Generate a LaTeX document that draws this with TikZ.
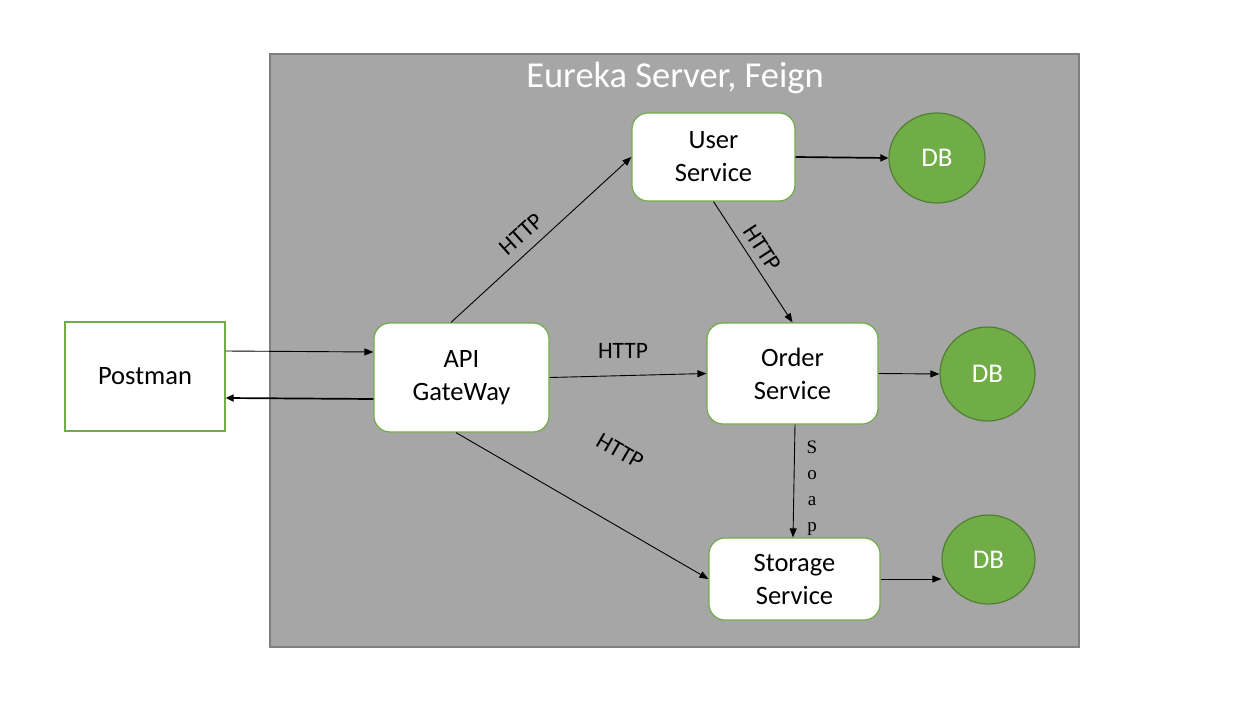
\documentclass[tikz,border=0pt]{standalone}
\usepackage{fontspec}
\setmainfont{Carlito}
\newfontfamily\serifb{Liberation Serif}
\usetikzlibrary{arrows.meta,shapes.geometric}
\definecolor{boxgreen}{HTML}{70AD47}
\definecolor{dbedge}{HTML}{507E32}
\definecolor{panel}{HTML}{A6A6A6}
\definecolor{paneledge}{HTML}{7F7F7F}
\tikzset{
  svc/.style={draw=boxgreen, line width=1.2pt, fill=white, rounded corners=16pt, align=center,
    font=\fontsize{26.5}{33}\selectfont, inner sep=0pt},
  dbnode/.style={ellipse, draw=dbedge, line width=1.2pt, fill=boxgreen, text=white, inner sep=0pt,
    font=\fontsize{27}{30}\selectfont},
  thin arrow/.style={line width=0.9pt, -{Triangle[length=9pt,width=7pt]}},
  thick arrow/.style={line width=1.7pt, -{Triangle[length=8pt,width=7pt]}},
  lbl/.style={font=\fontsize{23.5}{26}\selectfont, inner sep=0pt},
}
\begin{document}
\begin{tikzpicture}[x=1pt,y=-1pt]
\useasboundingbox (0,0) rectangle (1234,717);
\fill[white] (0,0) rectangle (1234,717);
% panel
\node[draw=paneledge, fill=panel, line width=1.8pt, minimum width=809pt, minimum height=593pt, inner sep=0pt] (panel) at (674.5,350.5) {};
\node[text=white, font=\fontsize{36.5}{40}\selectfont] (title) at (675,78) {Eureka Server, Feign};
% nodes
\node[draw=boxgreen, line width=1.2pt, fill=white, minimum width=160pt, minimum height=109pt, inner sep=0pt,
  font=\fontsize{26.5}{33}\selectfont] (postman) at (145,376.5) {Postman};
\node[svc, minimum width=175pt, minimum height=109pt] (api) at (461.5,377.5) {API\\GateWay};
\node[svc, minimum width=163pt, minimum height=88pt] (user) at (713.5,157) {User\\Service};
\node[svc, minimum width=171pt, minimum height=101pt] (order) at (792.5,373.5) {Order\\Service};
\node[svc, minimum width=171pt, minimum height=82pt] (storage) at (794.5,579) {Storage\\Service};
\node[dbnode, minimum width=96pt, minimum height=90pt] (db1) at (937,158) {DB};
\node[dbnode, minimum width=95pt, minimum height=94pt] (db2) at (987.5,374) {DB};
\node[dbnode, minimum width=93pt, minimum height=89pt] (db3) at (988.5,559.5) {DB};
% connectors
\draw[thin arrow] ([yshift=25.5pt]postman.east) -- ([yshift=25.5pt]api.west);
\draw[thick arrow] ([yshift=-21.5pt]api.west) -- ([yshift=-21.5pt]postman.east);
\draw[thin arrow] ([xshift=-10.5pt]api.north) -- (user.west);
\draw[thin arrow] (user.south) -- (order.north);
\draw[thin arrow] (api.east) -- (order.west);
\draw[thin arrow] ([xshift=2.5pt]order.south) -- ([xshift=-1.5pt]storage.north);
\draw[thin arrow] ([xshift=-5.5pt]api.south) -- (storage.west);
\draw[thick arrow] (user.east) -- (db1.west);
\draw[thin arrow] (order.east) -- (db2.west);
\draw[thin arrow] (storage.east) -- (storage.east -| db3.west);
% labels
\node[lbl, rotate=42] (l1) at (521,234) {HTTP};
\node[lbl, rotate=-57] (l2) at (762,248) {HTTP};
\node[lbl] (l3) at (623,351) {HTTP};
\node[lbl, rotate=-30] (l4) at (620,451) {HTTP};
\node[font=\serifb\fontsize{19}{26}\selectfont, align=center, inner sep=0pt] (soap) at (812,488) {S\\o\\a\\p};
\end{tikzpicture}
\end{document}
